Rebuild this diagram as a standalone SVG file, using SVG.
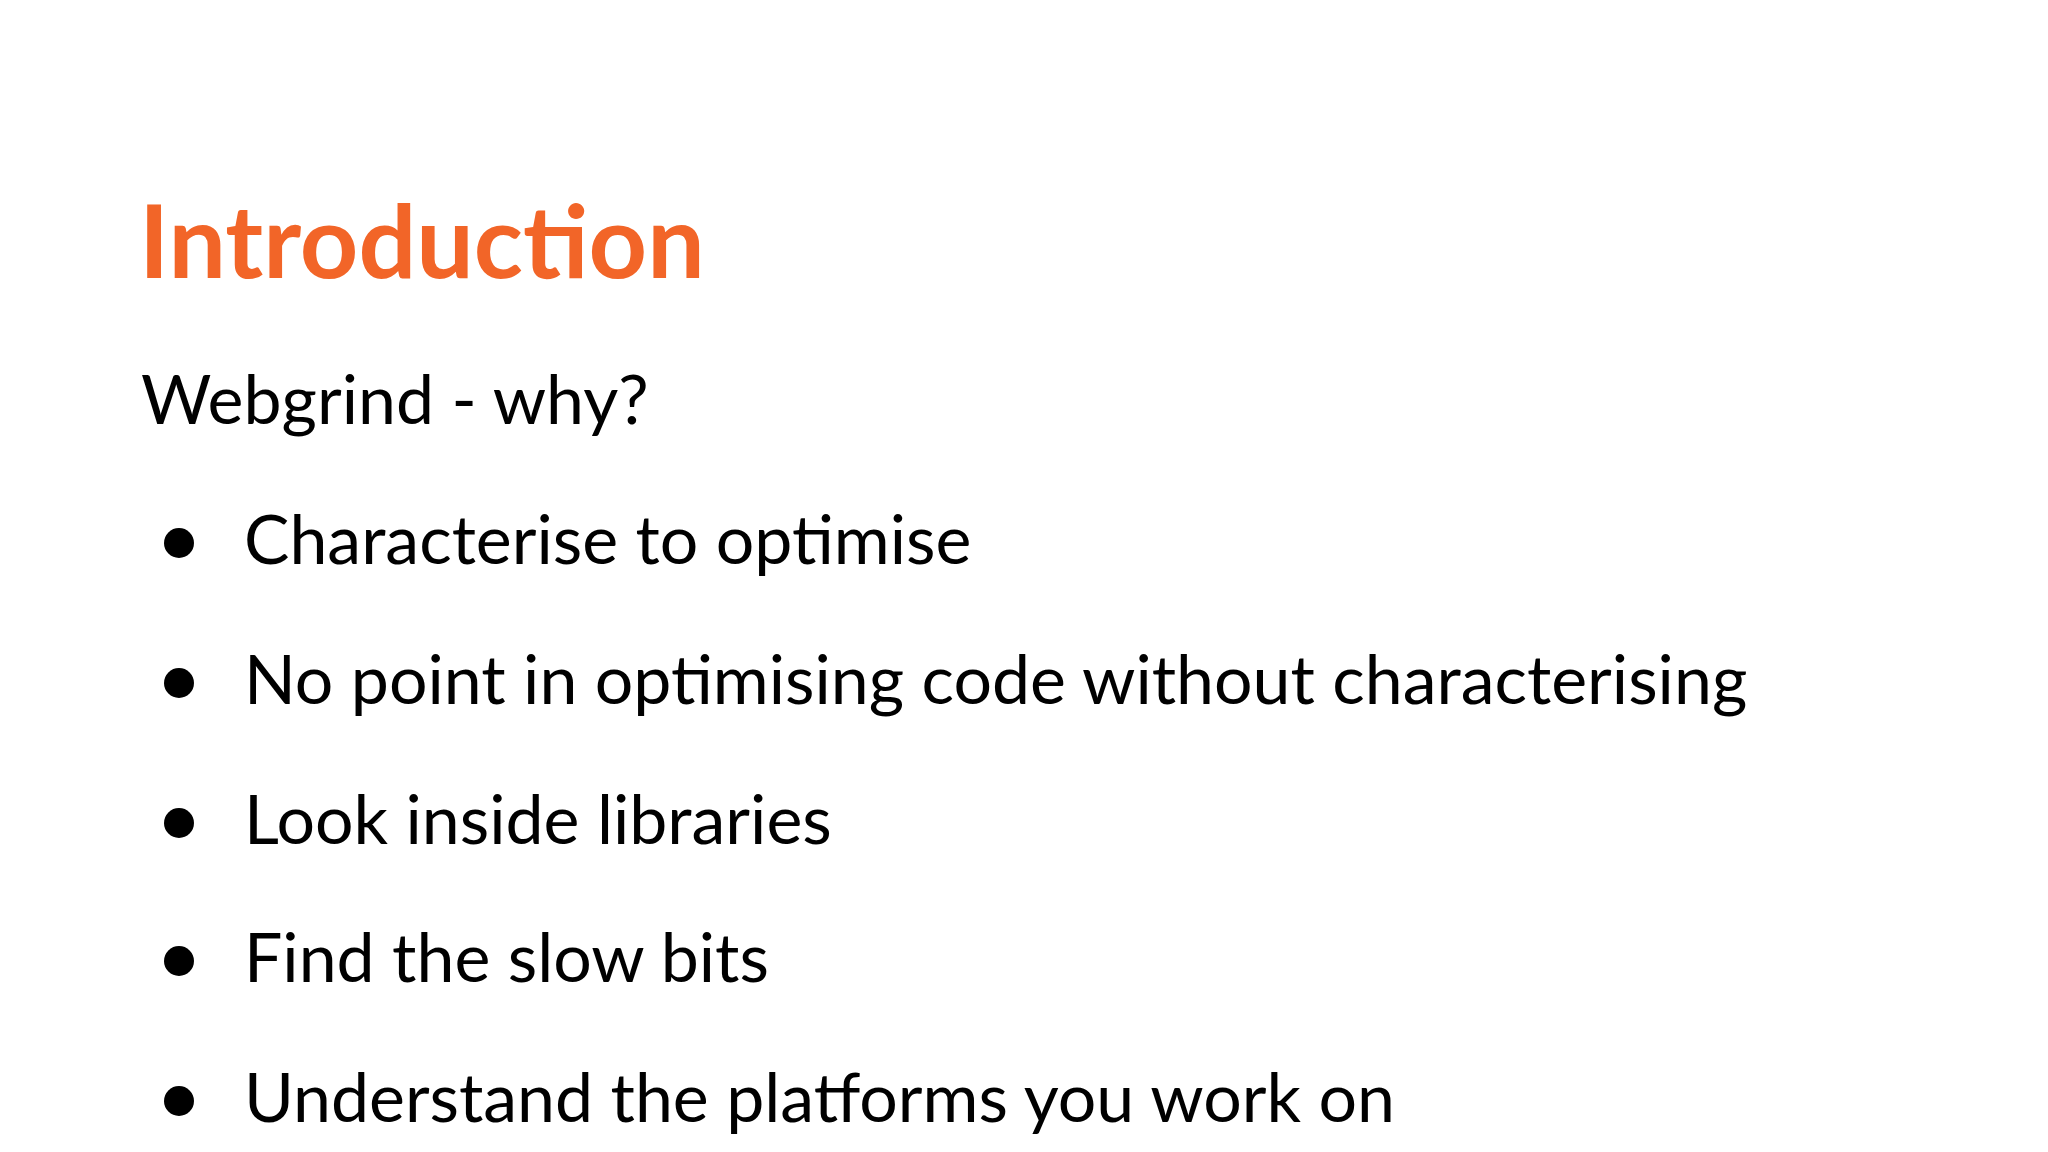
<svg xmlns="http://www.w3.org/2000/svg" width="2048" height="1152" viewBox="0 0 2048 1152">
<style>
.t{font-family:Lato,"Liberation Sans",sans-serif;fill:#000;font-size:68px}
.h{font-family:Lato,"Liberation Sans",sans-serif;fill:#F26528;font-size:102px;font-weight:bold}
</style>
<rect width="2048" height="1152" fill="#fff"/>
<text class="h" x="139" y="278">Introduction</text>
<text class="t" x="141" y="424">Webgrind - why?</text>
<g fill="#000">
<circle cx="179" cy="543" r="15"/><circle cx="179" cy="683" r="15"/><circle cx="179" cy="823" r="15"/><circle cx="179" cy="961" r="15"/><circle cx="179" cy="1101" r="15"/>
</g>
<text class="t" x="244" y="564">Characterise to optimise</text>
<text class="t" x="244" y="704">No point in optimising code without characterising</text>
<text class="t" x="244" y="844">Look inside libraries</text>
<text class="t" x="244" y="982">Find the slow bits</text>
<text class="t" x="244" y="1122">Understand the platforms you work on</text>
</svg>
